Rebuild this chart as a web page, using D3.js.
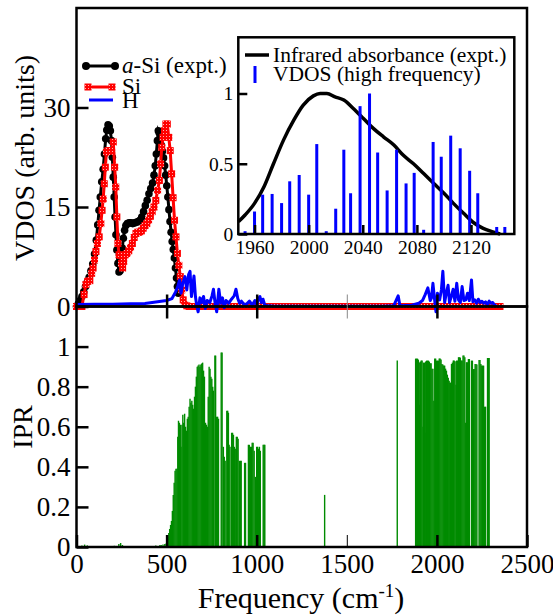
<!DOCTYPE html>
<html>
<head>
<meta charset="utf-8">
<script src="https://cdn.jsdelivr.net/npm/d3@7"></script>
<style>
body { margin: 0; background: #fff; }
svg text { font-family: "Liberation Serif", "Times New Roman", serif; fill: #000; }
</style>
</head>
<body>
<div id="chart"></div>
<script>
/* values: [frequency (cm-1), value] */

// a-Si experimental VDOS (black, circles)
const aSiExpt = [[0,0],[10,0.4],[20,0.9],[30,1.5],[40,2.2],[50,3.0],[60,3.7],[70,4.4],[80,5.4],[90,6.4],
  [100,7.9],[110,10.0],[118,12.3],[125,14.5],[132,16.5],[140,18.8],[148,20.7],[155,23.0],[162,25.3],[168,26.6],
  [175,27.4],[182,27.2],[188,26.5],[194,25.0],[199,22.5],[204,19.5],[209,16.5],[214,13.5],[219,10.8],[224,8.5],
  [230,6.5],[236,5.2],[242,5.4],[248,7.0],[254,8.8],[260,10.3],[267,11.5],[274,12.2],[282,12.5],[292,12.6],
  [302,12.6],[312,12.5],[322,12.6],[332,12.7],[342,12.8],[352,13.0],[362,13.5],[372,14.3],[382,15.2],[392,16.0],
  [402,17.0],[412,17.8],[422,18.6],[430,19.8],[437,21.2],[443,23.0],[449,25.0],[454,26.5],[459,26.2],[465,25.0],
  [471,24.3],[477,23.4],[483,22.4],[489,21.2],[495,19.8],[501,18.2],[507,16.5],[513,14.6],[519,12.8],[525,11.2],
  [531,9.8],[537,8.6],[543,7.3],[549,5.8],[555,4.3],[560,3.0],[565,2.0]];

// Si partial VDOS (red, squares)
const siVdos = [[0,0],[15,0],[30,0],[42,1.8],[52,3.3],[62,3.8],[74,3.9],[84,5.0],[92,5.8],[100,7.0],
  [108,8.3],[116,9.5],[126,10.5],[135,12.5],[142,14.5],[148,16.2],[154,18.5],[160,21.0],[166,23.3],[175,23.5],
  [185,23.5],[195,23.4],[204,24.8],[212,21.0],[218,18.0],[224,13.5],[230,9.5],[236,7.8],[243,7.7],[250,6.5],
  [256,5.8],[262,6.8],[270,7.8],[280,8.0],[290,8.4],[300,8.9],[310,9.5],[320,10.4],[330,11.0],[340,11.2],
  [350,11.2],[360,11.4],[370,11.8],[380,12.2],[390,12.5],[400,13.0],[410,13.6],[420,14.3],[430,15.0],[440,16.0],
  [450,17.5],[460,19.0],[467,21.5],[473,24.0],[480,25.5],[488,26.5],[496,27.5],[504,27.5],[512,25.5],[520,23.5],
  [528,20.0],[536,16.4],[544,13.0],[552,10.5],[560,8.0],[568,6.2],[576,4.5],[584,2.5],[592,1.0],[600,0.3],
  [612,0.1],[625,0],[650,0],[675,0],[700,0],[725,0],[750,0],[775,0],[800,0],[825,0],[850,0],[875,0],[900,0],
  [925,0],[950,0],[975,0],[1000,0],[1025,0],[1050,0],[1075,0],[1100,0],[1125,0],[1150,0],[1175,0],[1200,0],
  [1225,0],[1250,0],[1275,0],[1300,0],[1325,0],[1350,0],[1375,0],[1400,0],[1425,0],[1450,0],[1475,0],[1500,0],
  [1525,0],[1550,0],[1575,0],[1600,0],[1625,0],[1650,0],[1675,0],[1700,0],[1725,0],[1750,0],[1775,0],[1800,0],
  [1825,0],[1850,0],[1875,0],[1900,0],[1925,0],[1950,0],[1975,0],[2000,0],[2025,0],[2050,0],[2075,0],[2100,0],
  [2125,0],[2150,0],[2175,0],[2200,0],[2225,0],[2250,0],[2275,0],[2300,0],[2325,0],[2350,0]];

// H partial VDOS (blue)
const hVdos = [[0,0.3],[100,0.35],[200,0.35],[300,0.4],[380,0.45],[420,0.6],[460,0.75],[500,0.9],[530,1.2],
  [550,2.2],[562,3.0],[572,4.0],[580,2.0],[590,3.5],[602,4.5],[612,2.5],[622,4.8],[630,5.3],[638,1.5],[645,3.0],
  [652,4.6],[660,1.5],[668,0.0],[675,-0.8],[685,1.3],[695,0.6],[705,1.5],[715,-0.3],[725,0.9],[740,0.6],
  [752,1.6],[760,2.6],[770,0.3],[778,-0.8],[790,2.6],[800,0.5],[810,1.3],[820,-0.2],[830,0.9],[845,0.5],
  [860,1.1],[875,1.6],[885,2.6],[895,1.2],[905,0.5],[915,0.8],[930,0.3],[945,0.4],[960,0.8],[975,0.2],
  [990,0.9],[1000,0.1],[1010,1.2],[1018,1.5],[1026,0.6],[1035,1.1],[1045,0.2],[1060,0.1],[1100,0.05],
  [1200,0.05],[1300,0.05],[1400,0.05],[1500,0.05],[1600,0.05],[1700,0.05],[1760,0.1],[1785,1.6],[1795,0.1],
  [1860,0.2],[1900,0.5],[1920,0.9],[1935,1.8],[1950,2.8],[1963,0.9],[1970,1.3],[1978,3.5],[1988,0.8],
  [1995,-0.8],[2003,2.0],[2015,1.0],[2025,2.5],[2033,5.3],[2043,0.6],[2052,2.0],[2062,3.2],[2070,0.6],
  [2080,1.5],[2090,2.6],[2100,0.8],[2110,3.5],[2120,1.0],[2130,0.6],[2140,3.0],[2150,0.9],[2160,1.0],
  [2170,2.0],[2180,0.9],[2192,4.0],[2200,0.7],[2210,1.0],[2220,0.5],[2230,1.1],[2240,0.6],[2250,0.8],
  [2260,0.5],[2270,0.7],[2280,0.3],[2290,0.8],[2300,0.5],[2310,0.6],[2320,0.2],[2330,0.1]];

// inverse participation ratio of each mode (green sticks)
const iprModes = [[10,0.005],[30,0.008],[45,0.012],[60,0.008],[90,0.004],[150,0.004],[210,0.006],[235,0.015],
  [245,0.02],[255,0.01],[300,0.004],[400,0.005],[440,0.008],[463,0.01],[470,0.01],[480,0.012],[490,0.015],
  [497,0.017],[503,0.025],[508,0.05],[512,0.07],[517,0.09],[522,0.11],[527,0.13],[532,0.18],[537,0.26],
  [542,0.32],[547,0.38],[552,0.39],[557,0.39],[562,0.55],[566,0.63],[571,0.62],[576,0.61],[580,0.50],[585,0.61],
  [590,0.66],[595,0.62],[600,0.665],[605,0.60],[610,0.58],[615,0.64],[620,0.65],[625,0.70],[630,0.74],[635,0.72],
  [640,0.73],[645,0.71],[650,0.69],[655,0.75],[660,0.80],[665,0.85],[670,0.90],[675,0.905],[680,0.91],[685,0.90],
  [690,0.91],[695,0.915],[700,0.92],[705,0.88],[710,0.85],[716,0.62],[721,0.61],[726,0.60],[731,0.75],[736,0.90],
  [741,0.89],[746,0.85],[751,0.84],[756,0.80],[760,0.78],[768,0.955],[772,0.955],[778,0.65],[783,0.65],[788,0.64],
  [803,0.97],[808,0.97],[815,0.50],[820,0.45],[825,0.43],[834,0.68],[839,0.68],[843,0.67],[847,0.51],[852,0.50],
  [861,0.57],[866,0.57],[871,0.56],[876,0.50],[881,0.49],[887,0.55],[892,0.55],[897,0.54],[904,0.43],[909,0.43],
  [914,0.43],[933,0.42],[938,0.42],[954,0.51],[959,0.51],[965,0.50],[970,0.50],[975,0.52],[980,0.52],[986,0.48],
  [993,0.35],[1000,0.50],[1005,0.50],[1010,0.49],[1015,0.50],[1020,0.48],[1036,0.51],[1041,0.51],[1045,0.51],
  [1377,0.26],[1780,0.93],
  [1882,0.94],[1887,0.94],[1892,0.94],[1897,0.935],[1902,0.92],[1905,0.71],[1908,0.925],[1913,0.93],[1918,0.93],
  [1923,0.60],[1926,0.92],[1931,0.92],[1934,0.57],[1938,0.925],[1943,0.93],[1948,0.93],[1953,0.93],[1958,0.925],
  [1963,0.917],[1968,0.917],[1973,0.89],[1978,0.89],[1983,0.73],[1988,0.94],[1993,0.94],[1998,0.93],[2003,0.93],
  [2008,0.93],[2013,0.94],[2018,0.94],[2023,0.935],[2028,0.913],[2033,0.91],[2038,0.905],[2043,0.905],[2048,0.89],
  [2053,0.88],[2058,0.86],[2063,0.845],[2068,0.83],[2072,0.82],[2076,0.82],[2081,0.913],[2086,0.92],[2091,0.93],
  [2096,0.93],[2101,0.927],[2106,0.81],[2110,0.93],[2115,0.93],[2120,0.947],[2125,0.947],[2130,0.945],[2135,0.93],
  [2140,0.93],[2145,0.955],[2150,0.955],[2155,0.947],[2160,0.62],[2164,0.922],[2169,0.922],[2175,0.938],
  [2180,0.938],[2192,0.93],[2197,0.93],[2202,0.888],[2207,0.888],[2212,0.913],[2217,0.913],[2222,0.91],
  [2234,0.933],[2239,0.933],[2244,0.913],[2249,0.905],[2254,0.905],[2259,0.905],[2265,0.70],[2270,0.70],
  [2281,0.943],[2286,0.943],[2290,0.943]];

// inset: infrared absorbance (expt.) and high-frequency VDOS
const irAbsorb = [[1948.2,0.088],[1953,0.135],[1960,0.218],[1967,0.336],[1974,0.50],[1981.5,0.67],[1989,0.81],
  [1996,0.917],[2003.5,0.983],[2008.5,1.0],[2013.5,1.0],[2019.5,0.976],[2026,0.953],[2033,0.893],[2040.5,0.822],
  [2048,0.75],[2055.5,0.69],[2063,0.633],[2070,0.56],[2077.5,0.50],[2085,0.43],[2092.5,0.36],[2100,0.29],
  [2107,0.218],[2114.5,0.147],[2122,0.08],[2129,0.04],[2135.5,0.017],[2141.5,0]];
const vdosHigh = [[1953,0.02],[1960,0.16],[1966,0.28],[1973,0.285],[1980,0.22],[1986,0.375],[1993,0.42],
  [2000,0.28],[2006,0.64],[2013,0.02],[2020,0.18],[2026,0.60],[2031,0.29],[2038,0.91],[2045,1.0],[2051,0.58],
  [2058,0.31],[2065,0.60],[2072,0.36],[2078,0.435],[2085,0.03],[2092,0.655],[2098,0.55],[2105,0.70],[2112,0.61],
  [2119,0.45],[2125,0.29],[2139,0.05],[2145,0.05]];

const freqTicks = [0, 500, 1000, 1500, 2000, 2500];
const vdosTicks = [0, 15, 30];
const iprTicks = [0, 0.2, 0.4, 0.6, 0.8, 1];
const insetXTicks = [1960, 2000, 2040, 2080, 2120];
const insetYTicks = [0, 0.5, 1];
const mainLegend = ["a-Si (expt.)", "Si", "H"];
const insetLegend = ["Infrared absorbance (expt.)", "VDOS (high frequency)"];

const width = 553, height = 616;
const pL = 76.5, pR = 527, pT = 8, pM = 306.5, pB = 547;
const inL = 238.3, inR = 514.3, inT = 37.3, inB = 234;
const serif = '"Liberation Serif", "Times New Roman", serif';

const svg = d3.select("#chart").append("svg").attr("width", width).attr("height", height);

// dotted fill for the red squares
const defs = svg.append("defs");
const pat = defs.append("pattern").attr("id", "chk").attr("patternUnits", "userSpaceOnUse")
  .attr("width", 3).attr("height", 3);
pat.append("rect").attr("width", 3).attr("height", 3).attr("fill", "#ff0000");
pat.append("rect").attr("x", 1).attr("y", 1).attr("width", 1).attr("height", 1).attr("fill", "#ffb0b0");

const x = d3.scaleLinear().domain([0, 2500]).range([pL, pR]);
const yV = d3.scaleLinear().domain([0, 45]).range([pM, pT]);
const yI = d3.scaleLinear().domain([0, 1.2]).range([pB, pM]);
const xi = d3.scaleLinear().domain([1948, 2152]).range([inL, inR]);
const yi = d3.scaleLinear().domain([0, 1.4]).range([inB, inT]);

/* IPR sticks */
svg.append("g").selectAll("line").data(iprModes).enter().append("line")
  .attr("x1", d => x(d[0])).attr("x2", d => x(d[0]))
  .attr("y1", yI(0)).attr("y2", d => yI(d[1]))
  .attr("stroke", "#008b00").attr("stroke-width", 1.4);

/* VDOS curves */
const vLine = d3.line().x(d => x(d[0])).y(d => yV(d[1]));

svg.append("path").datum(aSiExpt).attr("d", vLine)
  .attr("fill", "none").attr("stroke", "#000").attr("stroke-width", 3);
svg.append("g").selectAll("circle").data(aSiExpt).enter().append("circle")
  .attr("cx", d => x(d[0])).attr("cy", d => yV(d[1])).attr("r", 3.8).attr("fill", "#000");

svg.append("path").datum(siVdos).attr("d", vLine)
  .attr("fill", "none").attr("stroke", "#ff0000").attr("stroke-width", 3);
svg.append("g").selectAll("rect").data(siVdos).enter().append("rect")
  .attr("x", d => x(d[0]) - 3.5).attr("y", d => yV(d[1]) - 3.5)
  .attr("width", 7).attr("height", 7).attr("fill", "url(#chk)");

svg.append("path").datum(hVdos).attr("d", vLine)
  .attr("fill", "none").attr("stroke", "#0000ff").attr("stroke-width", 3).attr("stroke-linejoin", "round");

/* frames and axes */
function styleAxis(g, size, sw) {
  g.attr("font-family", serif);
  g.select(".domain").remove();
  g.selectAll(".tick line").attr("stroke", "#000").attr("stroke-width", sw);
  g.selectAll(".tick text").style("font-size", size + "px").style("font-family", serif);
}

svg.append("rect").attr("x", pL).attr("y", pT).attr("width", pR - pL).attr("height", pM - pT)
  .attr("fill", "none").attr("stroke", "#000").attr("stroke-width", 2.5);
svg.append("rect").attr("x", pL).attr("y", pM).attr("width", pR - pL).attr("height", pB - pM)
  .attr("fill", "none").attr("stroke", "#000").attr("stroke-width", 2.5);

// left axes
svg.append("g").attr("transform", `translate(${pL},0)`)
  .call(d3.axisLeft(yV).tickValues(vdosTicks).tickSize(-12).tickPadding(6).tickFormat(d3.format("d")))
  .call(g => styleAxis(g, 27, 2.5));
svg.append("g").attr("transform", `translate(${pL},0)`)
  .call(d3.axisLeft(yI).tickValues(iprTicks).tickSize(-12).tickPadding(6).tickFormat(d => d))
  .call(g => styleAxis(g, 27, 2.5));

// bottom axis
svg.append("g").attr("transform", `translate(0,${pB})`)
  .call(d3.axisBottom(x).tickValues(freqTicks).tickSize(-12).tickPadding(7).tickFormat(d3.format("d")))
  .call(g => styleAxis(g, 27, 2.5))
  .call(g => g.selectAll(".tick line").filter(d => d === 1500).attr("stroke-width", 1));

// ticks crossing the shared middle line
const midTicks = freqTicks.filter(d => d > 0 && d < 2500);
[d3.axisBottom, d3.axisTop].forEach(ax => {
  svg.append("g").attr("transform", `translate(0,${pM})`)
    .call(ax(x).tickValues(midTicks).tickSize(12).tickFormat(""))
    .call(g => styleAxis(g, 27, 2.5))
    .call(g => g.selectAll(".tick line").filter(d => d === 1500).attr("stroke", "#888").attr("stroke-width", 1));
});

/* inset */
svg.append("rect").attr("x", inL).attr("y", inT).attr("width", inR - inL).attr("height", inB - inT)
  .attr("fill", "#fff");

svg.append("path").datum(irAbsorb)
  .attr("d", d3.line().x(d => xi(d[0])).y(d => yi(d[1])).curve(d3.curveMonotoneX))
  .attr("fill", "none").attr("stroke", "#000").attr("stroke-width", 3.5);

svg.append("g").selectAll("rect").data(vdosHigh).enter().append("rect")
  .attr("x", d => xi(d[0]) - 1.5).attr("width", 3)
  .attr("y", d => yi(d[1])).attr("height", d => yi(0) - yi(d[1]))
  .attr("fill", "#0000ff");

svg.append("g").attr("transform", `translate(0,${inB})`)
  .call(d3.axisBottom(xi).tickValues(insetXTicks).tickSize(-9).tickPadding(6).tickFormat(d3.format("d")))
  .call(g => styleAxis(g, 19.5, 2.5));
svg.append("g").attr("transform", `translate(${inL},0)`)
  .call(d3.axisLeft(yi).tickValues(insetYTicks).tickSize(-9).tickPadding(5).tickFormat(d => d))
  .call(g => styleAxis(g, 19.5, 2.5));

svg.append("rect").attr("x", inL).attr("y", inT).attr("width", inR - inL).attr("height", inB - inT)
  .attr("fill", "none").attr("stroke", "#000").attr("stroke-width", 2.5);

// inset legend
svg.append("line").attr("x1", 245).attr("x2", 269).attr("y1", 55).attr("y2", 55)
  .attr("stroke", "#000").attr("stroke-width", 3.5);
svg.append("text").attr("x", 273).attr("y", 62).style("font-size", "21.5px").text(insetLegend[0]);
svg.append("rect").attr("x", 253.5).attr("y", 66).attr("width", 3).attr("height", 17).attr("fill", "#0000ff");
svg.append("text").attr("x", 273).attr("y", 81).style("font-size", "21.5px").text(insetLegend[1]);

/* main legend */
const lg = svg.append("g");
lg.append("line").attr("x1", 86).attr("x2", 115).attr("y1", 66).attr("y2", 66)
  .attr("stroke", "#000").attr("stroke-width", 3);
[86, 115].forEach(cx => lg.append("circle").attr("cx", cx).attr("cy", 66).attr("r", 4).attr("fill", "#000"));
const t0 = lg.append("text").attr("x", 122).attr("y", 73).style("font-size", "23px");
t0.append("tspan").style("font-style", "italic").text(mainLegend[0].slice(0, 1));
t0.append("tspan").text(mainLegend[0].slice(1));

lg.append("line").attr("x1", 88).attr("x2", 112).attr("y1", 87).attr("y2", 87)
  .attr("stroke", "#ff0000").attr("stroke-width", 3);
[88, 112].forEach(cx => lg.append("rect").attr("x", cx - 3.5).attr("y", 83.5).attr("width", 7).attr("height", 7)
  .attr("fill", "url(#chk)"));
lg.append("text").attr("x", 122).attr("y", 94).style("font-size", "23px").text(mainLegend[1]);

lg.append("line").attr("x1", 89).attr("x2", 113).attr("y1", 100).attr("y2", 100)
  .attr("stroke", "#0000ff").attr("stroke-width", 3);
lg.append("text").attr("x", 122).attr("y", 108).style("font-size", "23px").text(mainLegend[2]);

/* axis titles */
svg.append("text").attr("transform", "translate(34,158) rotate(-90)")
  .style("text-anchor", "middle").style("font-size", "28px").text("VDOS (arb. units)");
svg.append("text").attr("transform", "translate(32,427) rotate(-90)")
  .style("text-anchor", "middle").style("font-size", "28px").text("IPR");
const xt = svg.append("text").attr("x", 301).attr("y", 608)
  .style("text-anchor", "middle").style("font-size", "30px");
xt.append("tspan").text("Frequency (cm");
xt.append("tspan").attr("dy", -11).style("font-size", "19px").text("-1");
xt.append("tspan").attr("dy", 11).text(")");
</script>
</body>
</html>
